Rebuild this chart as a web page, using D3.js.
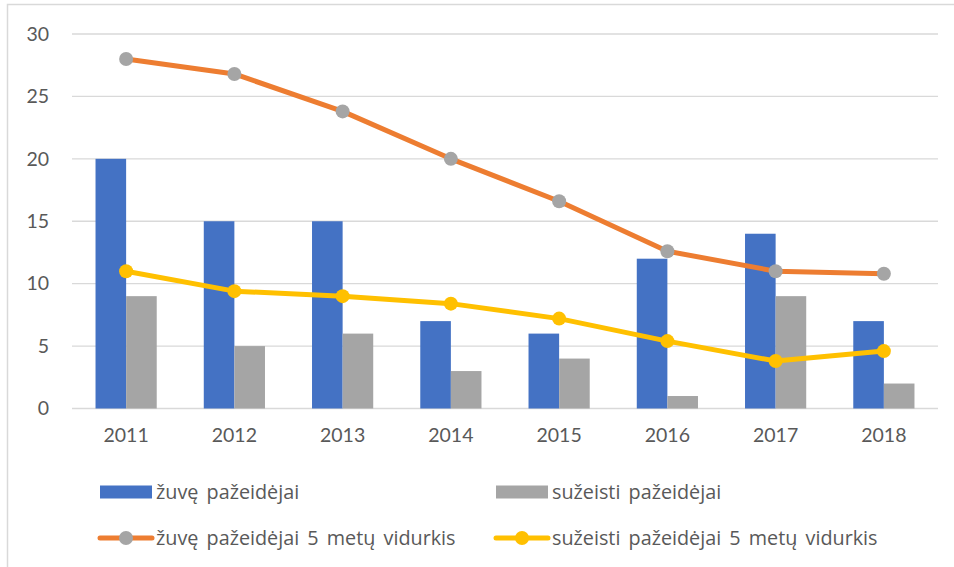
<!DOCTYPE html>
<html><head><meta charset="utf-8">
<script src="https://cdn.jsdelivr.net/npm/d3@7"></script>
<style>body{margin:0;background:#fff;} svg{display:block;font-family:Lato,"Open Sans",sans-serif;}</style>
</head><body>
<svg id="c" width="954" height="567"></svg>
<script>
const years = ["2011","2012","2013","2014","2015","2016","2017","2018"];
const killed = [20,15,15,7,6,12,14,7];
const injured = [9,5,6,3,4,1,9,2];
const killedAvg = [28,26.8,23.8,20,16.6,12.6,11,10.8];
const injuredAvg = [11,9.4,9,8.4,7.2,5.4,3.8,4.6];
const yTicks = [0,5,10,15,20,25,30];
const seriesNames = ["žuvę pažeidėjai","sužeisti pažeidėjai","žuvę pažeidėjai 5 metų vidurkis","sužeisti pažeidėjai 5 metų vidurkis"];

const svg = d3.select("#c");
const textCol = "#595959";
svg.append("rect").attr("x",7.5).attr("y",4.5).attr("width",960).attr("height",580)
  .attr("fill","#fff").attr("stroke","#D9D9D9").attr("stroke-width",1.5);

const x = d3.scaleBand().domain(years).range([72,938]);
const y = d3.scaleLinear().domain([0,30]).range([408.5,34]);

svg.append("g").selectAll("line").data(yTicks).join("line")
  .attr("x1",72).attr("x2",938).attr("y1",d=>y(d)).attr("y2",d=>y(d))
  .attr("stroke","#D9D9D9").attr("stroke-width",1.3);

const yAxis = d3.axisLeft(y).tickValues(yTicks).tickSize(0).tickPadding(0);
const ga = svg.append("g").attr("transform","translate(49,0)").call(yAxis);
ga.select(".domain").remove();
ga.selectAll("text").attr("fill",textCol).style("font-size","19.5px").style("font-family","Lato");

const xAxis = d3.axisBottom(x).tickSize(0).tickPadding(0);
const gx = svg.append("g").attr("transform","translate(0,428)").call(xAxis);
gx.select(".domain").remove();
gx.selectAll("text").attr("fill",textCol).style("font-size","19.5px").style("font-family","Lato");

const bw = 30.6;
svg.append("g").selectAll("rect").data(killed).join("rect")
  .attr("x",(d,i)=>x(years[i])+x.bandwidth()/2-bw).attr("width",bw)
  .attr("y",d=>y(d)).attr("height",d=>y(0)-y(d)).attr("fill","#4472C4");
svg.append("g").selectAll("rect").data(injured).join("rect")
  .attr("x",(d,i)=>x(years[i])+x.bandwidth()/2).attr("width",bw)
  .attr("y",d=>y(d)).attr("height",d=>y(0)-y(d)).attr("fill","#A5A5A5");

const cx = i => x(years[i])+x.bandwidth()/2;
const line = d3.line().x((d,i)=>cx(i)).y(d=>y(d));
function drawLine(data,col,mcol){
  svg.append("path").datum(data).attr("d",line).attr("fill","none")
    .attr("stroke",col).attr("stroke-width",5).attr("stroke-linejoin","round").attr("stroke-linecap","round");
  svg.append("g").selectAll("circle").data(data).join("circle")
    .attr("cx",(d,i)=>cx(i)).attr("cy",d=>y(d)).attr("r",7).attr("fill",mcol);
}
drawLine(killedAvg,"#ED7D31","#A5A5A5");
drawLine(injuredAvg,"#FFC000","#FFC000");

const lg = svg.append("g").style("font-size","19.8px").style("font-family","'Open Sans'")
  .style("word-spacing","3px").attr("fill",textCol);
const legendItems = [
  {type:"rect",col:"#4472C4",x:100,y:492},
  {type:"rect",col:"#A5A5A5",x:496,y:492},
  {type:"line",col:"#ED7D31",m:"#A5A5A5",x:100,y:538},
  {type:"line",col:"#FFC000",m:"#FFC000",x:496,y:538}
];
legendItems.forEach((it,i)=>{
  if(it.type==="rect"){
    lg.append("rect").attr("x",it.x).attr("y",it.y-6.5).attr("width",52).attr("height",13).attr("fill",it.col);
  } else {
    lg.append("line").attr("x1",it.x).attr("x2",it.x+52).attr("y1",it.y).attr("y2",it.y)
      .attr("stroke",it.col).attr("stroke-width",5).attr("stroke-linecap","round");
    lg.append("circle").attr("cx",it.x+26).attr("cy",it.y).attr("r",7).attr("fill",it.m);
  }
  lg.append("text").attr("x",it.x+56).attr("y",it.y).attr("dy","0.35em").text(seriesNames[i]);
});
</script>
</body></html>
